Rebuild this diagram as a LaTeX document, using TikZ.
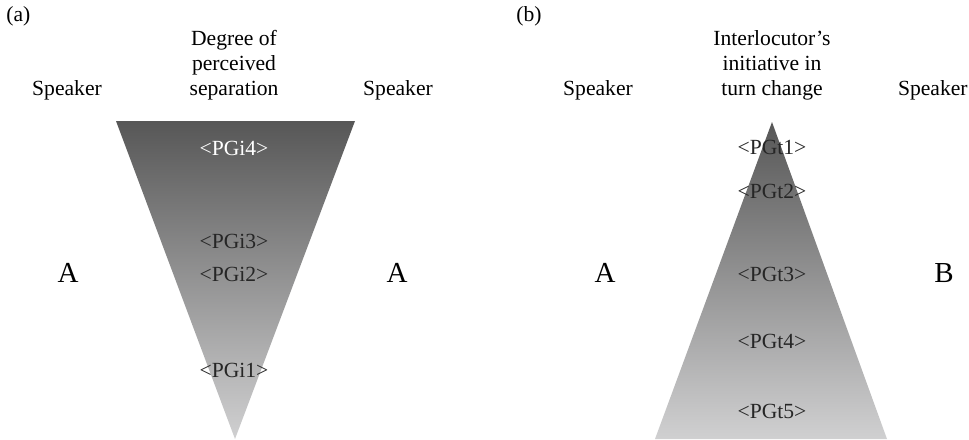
\documentclass[tikz,border=0pt]{standalone}
\usepackage{fontspec}
\setmainfont{Liberation Serif}
\definecolor{wedgetop}{HTML}{575757}
\definecolor{wedgebot}{HTML}{D0D0D1}
\tikzset{lbl/.style={font=\fontsize{10.8}{12.5}\selectfont, inner sep=0pt},
  side/.style={font=\fontsize{14.5}{16}\selectfont, inner sep=0pt},
  tag/.style={lbl, text=black!85}}
\begin{document}
\begin{tikzpicture}[x=0.5pt,y=-0.5pt]
  \useasboundingbox (0,0) rectangle (969,439);
  % panel (a)
  \shade[top color=wedgetop, bottom color=wedgebot] (116,121) -- (355,121) -- (235,439) -- cycle;
  \node[lbl, anchor=west] (pa) at (6,16) {(a)};
  \node[lbl, align=center] (qa) at (234,65) {Degree of\\perceived\\separation};
  \node[lbl] (sa1) at (67,90) {Speaker};
  \node[lbl] (sa2) at (398,90) {Speaker};
  \node[side] (ka1) at (68,273) {A};
  \node[side] (ka2) at (397,273) {A};
  \node[tag, text=white] (gi4) at (234,148) {<PGi4>};
  \node[tag] (gi3) at (234,241) {<PGi3>};
  \node[tag] (gi2) at (234,274) {<PGi2>};
  \node[tag] (gi1) at (234,370) {<PGi1>};
  % panel (b)
  \shade[top color=wedgetop, bottom color=wedgebot] (772,122) -- (887,439) -- (655,439) -- cycle;
  \node[lbl, anchor=west] (pb) at (516,16) {(b)};
  \node[lbl, align=center] (qb) at (772,65) {Interlocutor’s\\initiative in\\turn change};
  \node[lbl] (sb1) at (598,90) {Speaker};
  \node[lbl, anchor=east] (sb2) at (968,90) {Speaker};
  \node[side] (kb1) at (605,273) {A};
  \node[side] (kb2) at (944,273) {B};
  \node[tag] (gt1) at (772,147) {<PGt1>};
  \node[tag] (gt2) at (772,191) {<PGt2>};
  \node[tag] (gt3) at (772,274) {<PGt3>};
  \node[tag] (gt4) at (772,341) {<PGt4>};
  \node[tag] (gt5) at (772,411) {<PGt5>};
\end{tikzpicture}
\end{document}
